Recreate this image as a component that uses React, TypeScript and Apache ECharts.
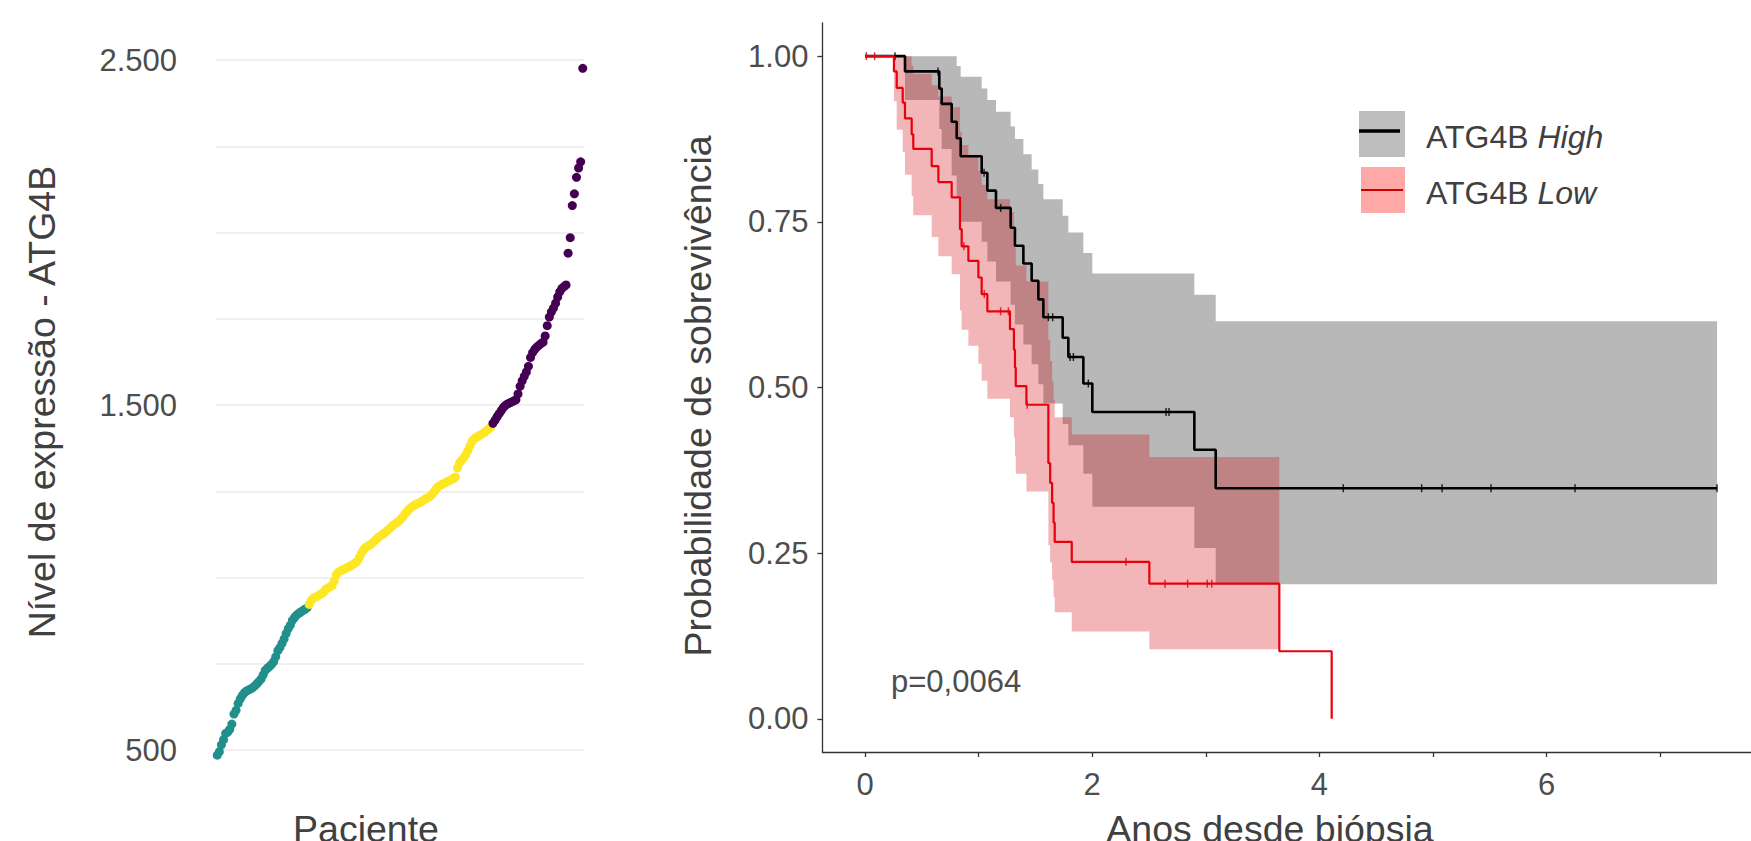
import React, { useEffect, useRef } from "react";
import * as echarts from "echarts";

const FONT = '"Liberation Sans", Arial, Helvetica, sans-serif';

// ---------- Left panel: ATG4B expression per patient (sorted) ----------
const lowExpr = [485, 495, 515, 530, 548, 552, 560, 575, 604, 615, 635, 648, 658, 666, 671, 674, 677, 681, 686, 692, 699, 706, 718, 731, 737, 742, 748, 756, 770, 788, 797, 809, 822, 838, 852, 862, 876, 884, 891, 896, 900, 904, 908, 912];
const midExpr = [922, 934, 940, 943, 946, 950, 953, 958, 966, 970, 973, 977, 990, 1008, 1016, 1019, 1022, 1025, 1028, 1031, 1034, 1038, 1042, 1047, 1058, 1070, 1080, 1087, 1091, 1094, 1099, 1104, 1110, 1116, 1120, 1124, 1129, 1134, 1139, 1145, 1150, 1155, 1159, 1164, 1170, 1177, 1185, 1192, 1199, 1204, 1208, 1212, 1214, 1217, 1221, 1225, 1229, 1232, 1236, 1242, 1250, 1258, 1264, 1268, 1271, 1274, 1277, 1280, 1283, 1287, 1291, 1318, 1332, 1340, 1347, 1356, 1368, 1381, 1394, 1402, 1406, 1410, 1413, 1417, 1421, 1426, 1431, 1436];
const highExpr = [1447, 1456, 1466, 1475, 1484, 1493, 1499, 1503, 1506, 1509, 1512, 1515, 1532, 1554, 1570, 1583, 1596, 1612, 1638, 1652, 1661, 1668, 1673, 1678, 1682, 1700, 1730, 1755, 1770, 1781, 1795, 1813, 1828, 1838, 1843, 1848, 1940, 1985, 2078, 2112, 2160, 2187, 2205, 2476];
const exprLabelTicks = [500, 1500, 2500];

// ---------- Right panel: Kaplan-Meier ----------
const highTime = [0, 0.352, 0.654, 0.675, 0.763, 0.807, 0.842, 1.027, 1.077, 1.153, 1.282, 1.32, 1.394, 1.467, 1.526, 1.57, 1.74, 1.79, 1.922, 2.001, 2.899, 3.087, 7.5];
const highSurv = [1, 0.977, 0.951, 0.928, 0.901, 0.876, 0.849, 0.824, 0.797, 0.771, 0.741, 0.714, 0.687, 0.661, 0.633, 0.606, 0.575, 0.546, 0.506, 0.463, 0.406, 0.348, 0.348];
const highUpper = [1, 1, 1, 1, 1, 0.985, 0.969, 0.951, 0.934, 0.916, 0.894, 0.875, 0.852, 0.829, 0.807, 0.784, 0.759, 0.734, 0.703, 0.672, 0.64, 0.6, 0.6];
const highLower = [1, 0.934, 0.89, 0.86, 0.82, 0.786, 0.75, 0.72, 0.69, 0.66, 0.625, 0.595, 0.565, 0.535, 0.505, 0.476, 0.445, 0.413, 0.37, 0.32, 0.258, 0.203, 0.203];
const highCensorTime = [0.264, 0.642, 1.048, 1.194, 1.614, 1.652, 1.805, 1.834, 1.966, 2.65, 2.676, 4.21, 4.9, 5.08, 5.51, 6.25, 7.5];
const highCensorSurv = [1, 0.977, 0.824, 0.771, 0.606, 0.606, 0.546, 0.546, 0.506, 0.463, 0.463, 0.348, 0.348, 0.348, 0.348, 0.348, 0.348];

const lowTime = [0, 0.255, 0.279, 0.332, 0.352, 0.411, 0.425, 0.587, 0.646, 0.763, 0.836, 0.851, 0.91, 0.998, 1.027, 1.077, 1.276, 1.311, 1.32, 1.327, 1.421, 1.614, 1.63, 1.647, 1.66, 1.67, 1.82, 2.503, 3.647, 4.108];
const lowSurv = [1, 0.977, 0.952, 0.93, 0.906, 0.882, 0.86, 0.834, 0.81, 0.787, 0.739, 0.713, 0.691, 0.666, 0.641, 0.615, 0.588, 0.557, 0.53, 0.502, 0.474, 0.386, 0.356, 0.326, 0.296, 0.267, 0.237, 0.204, 0.102, 0];
const lowUpper = [1, 1, 1, 1, 1, 0.986, 0.973, 0.956, 0.939, 0.923, 0.886, 0.866, 0.848, 0.827, 0.806, 0.784, 0.765, 0.735, 0.71, 0.684, 0.66, 0.572, 0.54, 0.51, 0.482, 0.455, 0.429, 0.395, null, null];
const lowLower = [1, 0.932, 0.889, 0.855, 0.821, 0.789, 0.76, 0.727, 0.698, 0.671, 0.616, 0.587, 0.563, 0.536, 0.51, 0.483, 0.455, 0.424, 0.397, 0.37, 0.343, 0.262, 0.236, 0.21, 0.184, 0.161, 0.132, 0.105, null, null];
const lowCensorTime = [0.012, 0.085, 0.87, 1.05, 1.194, 1.262, 1.427, 2.297, 2.641, 2.84, 3.013, 3.052];
const lowCensorSurv = [1, 1, 0.713, 0.641, 0.615, 0.615, 0.474, 0.237, 0.204, 0.204, 0.204, 0.204];

const yearTicks = [0, 1, 2, 3, 4, 5, 6, 7];
const yearLabels = [0, 2, 4, 6];
const survTicks = [0, 0.25, 0.5, 0.75, 1];
const pValueText = "p=0,0064";

function bandPolygon(api: any, time: number[], lower: (number | null)[], upper: (number | null)[]) {
  const top: number[][] = [];
  const bottom: number[][] = [];
  for (let i = 1; i < time.length - 1; i++) {
    const u = upper[i];
    const l = lower[i];
    if (u == null || l == null) break;
    top.push(api.coord([time[i], u]));
    top.push(api.coord([time[i + 1], u]));
    bottom.push(api.coord([time[i], l]));
    bottom.push(api.coord([time[i + 1], l]));
  }
  return top.concat(bottom.reverse());
}

function fmtThousands(v: number) {
  return String(v).replace(/\B(?=(\d{3})+(?!\d))/g, ".");
}

export default function App() {
  const ref = useRef<HTMLDivElement>(null);
  useEffect(() => {
    if (!ref.current) return;
    document.body.style.margin = "0";
    const chart = echarts.init(ref.current, undefined, { renderer: "svg" });
    const tickColor = "#4D4D4D";
    const titleColor = "#404040";
    const axisColor = "#333333";

    const option: any = {
      animation: false,
      backgroundColor: "#ffffff",
      grid: [
        { left: 216, top: 60, width: 368, height: 690 },
        { left: 822.4, top: 23, width: 928.6, height: 729 },
      ],
      xAxis: [
        {
          gridIndex: 0, type: "value", min: 0.4, max: 176.6,
          axisLine: { show: false }, axisTick: { show: false }, axisLabel: { show: false }, splitLine: { show: false },
        },
        {
          gridIndex: 1, type: "value", min: -0.375, max: 7.799,
          axisLine: { show: true, onZero: false, lineStyle: { color: axisColor, width: 1.3 } },
          axisTick: { show: true, customValues: yearTicks, length: 5, lineStyle: { color: axisColor, width: 1.3 } },
          axisLabel: { customValues: yearLabels, fontSize: 31, fontFamily: FONT, color: tickColor, margin: 17 },
          splitLine: { show: false },
        },
      ],
      yAxis: [
        {
          gridIndex: 0, type: "value", min: 500, max: 2500, interval: 250,
          axisLine: { show: false }, axisTick: { show: false },
          splitLine: { show: true, lineStyle: { color: "#EBEBEB", width: 1.6 } },
          axisLabel: {
            fontSize: 31, fontFamily: FONT, color: tickColor, margin: 39,
            formatter: (v: number) => (exprLabelTicks.indexOf(v) >= 0 ? fmtThousands(v) : ""),
          },
        },
        {
          gridIndex: 1, type: "value", min: -0.05, max: 1.05,
          axisLine: { show: true, onZero: false, lineStyle: { color: axisColor, width: 1.3 } },
          axisTick: { show: true, customValues: survTicks, length: 5, lineStyle: { color: axisColor, width: 1.3 } },
          axisLabel: {
            customValues: survTicks, fontSize: 31, fontFamily: FONT, color: tickColor, margin: 14,
            formatter: (v: number) => v.toFixed(2),
          },
          splitLine: { show: false },
        },
      ],
      series: [
        {
          type: "scatter", xAxisIndex: 0, yAxisIndex: 0, clip: false, symbolSize: 9,
          itemStyle: { color: "#21908C", opacity: 1 },
          data: lowExpr.map((v, i) => [i + 1, v]),
        },
        {
          type: "scatter", xAxisIndex: 0, yAxisIndex: 0, clip: false, symbolSize: 9,
          itemStyle: { color: "#FDE725", opacity: 1 },
          data: midExpr.map((v, i) => [lowExpr.length + i + 1, v]),
        },
        {
          type: "scatter", xAxisIndex: 0, yAxisIndex: 0, clip: false, symbolSize: 9,
          itemStyle: { color: "#440154", opacity: 1 },
          data: highExpr.map((v, i) => [lowExpr.length + midExpr.length + i + 1, v]),
        },
        {
          type: "custom", xAxisIndex: 1, yAxisIndex: 1, silent: true,
          data: highTime.map((t, i) => [t, highLower[i], highUpper[i]]),
          encode: { x: 0, y: [1, 2] },
          renderItem: (params: any, api: any) => {
            if (params.dataIndex !== 0) return null;
            return { type: "polygon", shape: { points: bandPolygon(api, highTime, highLower, highUpper) }, style: { fill: "#B8B8B8" } };
          },
        },
        {
          type: "custom", xAxisIndex: 1, yAxisIndex: 1, silent: true,
          data: lowTime.map((t, i) => [t, lowLower[i] ?? 0, lowUpper[i] ?? 0]),
          encode: { x: 0, y: [1, 2] },
          renderItem: (params: any, api: any) => {
            if (params.dataIndex !== 0) return null;
            return { type: "polygon", shape: { points: bandPolygon(api, lowTime, lowLower, lowUpper) }, style: { fill: "rgba(211,5,15,0.29)" } };
          },
        },
        {
          type: "line", xAxisIndex: 1, yAxisIndex: 1, step: "end", showSymbol: false, symbol: "none",
          lineStyle: { color: "#000000", width: 2.6 },
          data: highTime.map((t, i) => [t, highSurv[i]]),
        },
        {
          type: "line", xAxisIndex: 1, yAxisIndex: 1, step: "end", showSymbol: false, symbol: "none",
          lineStyle: { color: "#E8000D", width: 2.2 },
          data: lowTime.map((t, i) => [t, lowSurv[i]]),
        },
        {
          type: "scatter", xAxisIndex: 1, yAxisIndex: 1, symbol: "rect", symbolSize: [1.5, 8],
          itemStyle: { color: "#000000" },
          data: highCensorTime.map((t, i) => [t, highCensorSurv[i]]),
        },
        {
          type: "scatter", xAxisIndex: 1, yAxisIndex: 1, symbol: "rect", symbolSize: [1.5, 8],
          itemStyle: { color: "#E8000D" },
          data: lowCensorTime.map((t, i) => [t, lowCensorSurv[i]]),
        },
      ],
      graphic: [
        {
          type: "text", x: 42, y: 402, rotation: Math.PI / 2,
          style: { text: "Nível de expressão - ATG4B", fontSize: 37.5, fontFamily: FONT, fill: titleColor, align: "center", verticalAlign: "middle" },
        },
        {
          type: "text", x: 366, y: 829,
          style: { text: "Paciente", fontSize: 37.5, fontFamily: FONT, fill: titleColor, align: "center", verticalAlign: "middle" },
        },
        {
          type: "text", x: 698, y: 396, rotation: Math.PI / 2,
          style: { text: "Probabilidade de sobrevivência", fontSize: 37.5, fontFamily: FONT, fill: titleColor, align: "center", verticalAlign: "middle" },
        },
        {
          type: "text", x: 1270, y: 829,
          style: { text: "Anos desde biópsia", fontSize: 37.5, fontFamily: FONT, fill: titleColor, align: "center", verticalAlign: "middle" },
        },
        {
          type: "text", x: 891, y: 681,
          style: { text: pValueText, fontSize: 31, fontFamily: FONT, fill: tickColor, align: "left", verticalAlign: "middle" },
        },
        { type: "rect", shape: { x: 1359, y: 111, width: 46, height: 46 }, style: { fill: "#BEBEBE" } },
        { type: "line", shape: { x1: 1359, y1: 131, x2: 1400, y2: 131 }, style: { stroke: "#000000", lineWidth: 3.5 } },
        { type: "rect", shape: { x: 1361, y: 167, width: 44, height: 46 }, style: { fill: "#FFA8A8" } },
        { type: "line", shape: { x1: 1361, y1: 190, x2: 1403, y2: 190 }, style: { stroke: "#C80000", lineWidth: 2 } },
        {
          type: "text", x: 1426, y: 137,
          style: {
            text: "{a|ATG4B }{b|High}", fill: titleColor, align: "left", verticalAlign: "middle",
            rich: {
              a: { fontSize: 32, fontFamily: FONT, fill: titleColor },
              b: { fontSize: 32, fontFamily: FONT, fontStyle: "italic", fill: titleColor },
            },
          },
        },
        {
          type: "text", x: 1426, y: 193,
          style: {
            text: "{a|ATG4B }{b|Low}", fill: titleColor, align: "left", verticalAlign: "middle",
            rich: {
              a: { fontSize: 32, fontFamily: FONT, fill: titleColor },
              b: { fontSize: 32, fontFamily: FONT, fontStyle: "italic", fill: titleColor },
            },
          },
        },
      ],
    };
    chart.setOption(option);
    return () => chart.dispose();
  }, []);
  return <div ref={ref} style={{ position: "fixed", left: 0, top: 0, width: 1751, height: 841, background: "#fff" }} />;
}
